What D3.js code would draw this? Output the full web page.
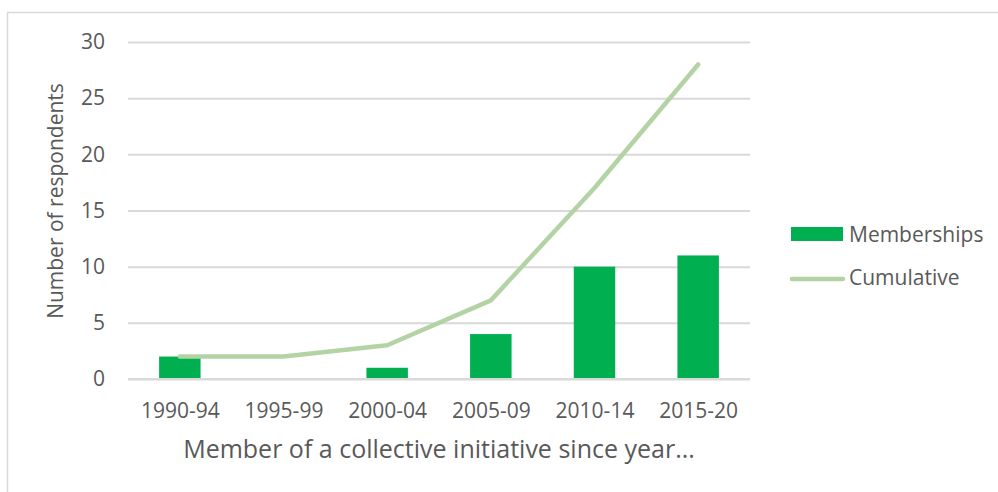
<!DOCTYPE html>
<html>
<head>
<meta charset="utf-8">
<script src="https://cdn.jsdelivr.net/npm/d3@7"></script>
<style>
  html, body { margin: 0; padding: 0; background: #fff; }
  svg { display: block; }
  text { font-family: "Open Sans", sans-serif; fill: #595959; }
</style>
</head>
<body>
<svg id="chart" width="998" height="492"></svg>
<script>
// Respondents by the period in which they joined a collective initiative
const periods = ["1990-94", "1995-99", "2000-04", "2005-09", "2010-14", "2015-20"];
const memberships = [2, 0, 1, 4, 10, 11];
const cumulative = [2, 2, 3, 7, 17, 28];
const yTicks = [0, 5, 10, 15, 20, 25, 30];
const seriesNames = ["Memberships", "Cumulative"];

const svg = d3.select("#chart");
const W = 998, H = 492;
const plot = { left: 128, right: 750, top: 42, bottom: 379 };
const tickFont = 21;

// chart frame
svg.append("rect")
  .attr("x", 7.5).attr("y", 12.5)
  .attr("width", W + 10).attr("height", H + 10)
  .attr("fill", "none").attr("stroke", "#d9d9d9").attr("stroke-width", 1.5);

const x = d3.scaleBand().domain(periods).range([plot.left, plot.right]).paddingInner(0.6).paddingOuter(0.3);
const xc = d3.scalePoint().domain(periods).range([plot.left, plot.right]).padding(0.5);
const y = d3.scaleLinear().domain([0, 30]).range([plot.bottom, plot.top]);

// horizontal gridlines and value labels
const yAxis = d3.axisLeft(y).tickValues(yTicks).tickSize(-(plot.right - plot.left)).tickPadding(23);
const gy = svg.append("g").attr("transform", `translate(${plot.left},0)`).call(yAxis);
gy.select(".domain").remove();
gy.selectAll(".tick line").attr("stroke", "#d9d9d9").attr("stroke-width", 2);
gy.selectAll(".tick text").attr("font-size", tickFont).attr("fill", "#595959")
  .attr("font-family", "'Open Sans', sans-serif");

// bars
svg.append("g").selectAll("rect").data(periods).join("rect")
  .attr("x", d => x(d))
  .attr("width", x.bandwidth())
  .attr("y", (d, i) => y(memberships[i]))
  .attr("height", (d, i) => y(0) - y(memberships[i]))
  .attr("fill", "#00b050");

// baseline drawn over the bars
svg.append("line")
  .attr("x1", plot.left).attr("x2", plot.right)
  .attr("y1", y(0)).attr("y2", y(0))
  .attr("stroke", "#d9d9d9").attr("stroke-width", 2);

// cumulative line
const line = d3.line().x((d, i) => xc(periods[i])).y(d => y(d));
svg.append("path")
  .datum(cumulative)
  .attr("d", line)
  .attr("fill", "none")
  .attr("stroke", "#b3d3a5")
  .attr("stroke-width", 4.5)
  .attr("stroke-linecap", "round")
  .attr("stroke-linejoin", "round");

// category labels
const xAxis = d3.axisBottom(xc).tickSize(0).tickPadding(24);
const gx = svg.append("g").attr("transform", `translate(0,${plot.bottom})`).call(xAxis);
gx.select(".domain").remove();
gx.selectAll(".tick text").attr("font-size", tickFont).attr("fill", "#595959")
  .attr("font-family", "'Open Sans', sans-serif");

// axis titles
svg.append("text")
  .attr("x", (plot.left + plot.right) / 2).attr("y", 458)
  .attr("text-anchor", "middle").attr("font-size", 25)
  .text("Member of a collective initiative since year...");

svg.append("text")
  .attr("transform", "translate(63,201) rotate(-90)")
  .attr("text-anchor", "middle").attr("font-size", 21)
  .text("Number of respondents");

// legend
const lg = svg.append("g");
lg.append("rect").attr("x", 791).attr("y", 227).attr("width", 52).attr("height", 14).attr("fill", "#00b050");
lg.append("text").attr("x", 849).attr("y", 242).attr("font-size", 21).text(seriesNames[0]);
lg.append("line").attr("x1", 792).attr("x2", 843).attr("y1", 279).attr("y2", 279)
  .attr("stroke", "#b3d3a5").attr("stroke-width", 4.5).attr("stroke-linecap", "round");
lg.append("text").attr("x", 849).attr("y", 285).attr("font-size", 21).text(seriesNames[1]);
</script>
</body>
</html>
